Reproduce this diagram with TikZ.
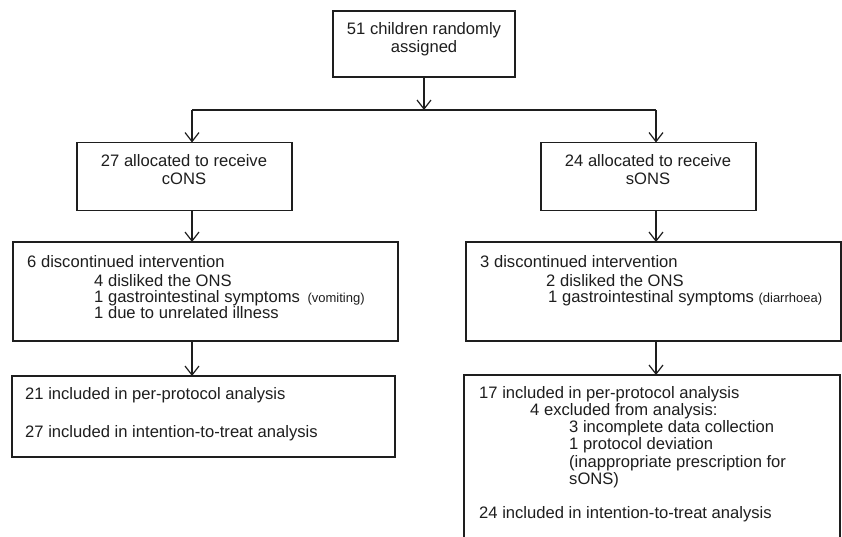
\documentclass[tikz,border=0pt]{standalone}
\usepackage{fontspec}
\setmainfont{Liberation Sans}
\usetikzlibrary{arrows.meta}
\definecolor{ink}{HTML}{1E1E1E}
\newcommand{\sm}[1]{{\fontsize{13}{15}\selectfont #1}}
\begin{document}
\begin{tikzpicture}[x=1pt,y=-1pt,
  box/.style={draw=ink,line width=1.2pt,rectangle,inner sep=0pt,outer sep=0pt},
  txt/.style={inner sep=0pt,anchor=base west,text=ink,font=\fontsize{16.6}{19}\selectfont},
  ctxt/.style={inner sep=0pt,anchor=base,text=ink,font=\fontsize{16.6}{19}\selectfont},
  arr/.style={draw=ink,line width=1.2pt,-{Straight Barb[length=9pt,width=14pt,line width=1.2pt]}},
  link/.style={draw=ink,line width=1.2pt}]
\clip (0,0) rectangle (842,537);
\fill[white] (0,0) rectangle (842,537);
% boxes
\node[box,minimum width=182pt,minimum height=66pt] (top) at (424,44) {};
\node[box,minimum width=215pt,minimum height=68pt] (l2) at (184.5,176.5) {};
\node[box,minimum width=215pt,minimum height=68pt] (r2) at (648.5,176.5) {};
\node[box,minimum width=385pt,minimum height=99pt] (l3) at (205.5,291.5) {};
\node[box,minimum width=375pt,minimum height=99pt] (r3) at (653.5,291.5) {};
\node[box,minimum width=383pt,minimum height=81pt] (l4) at (203.5,416.5) {};
\node[box,minimum width=376pt,minimum height=180pt] (r4) at (652,465) {};
% texts
\node[ctxt] (t1a) at (424,35) {51 children randomly};
\node[ctxt] (t1b) at (424,53) {assigned};
\node[ctxt] (t2a) at (184,167) {27 allocated to receive};
\node[ctxt] (t2b) at (184,185) {cONS};
\node[ctxt] (t3a) at (648,167) {24 allocated to receive};
\node[ctxt] (t3b) at (648,185) {sONS};
\node[txt] (l3a) at (27,267) {6 discontinued intervention};
\node[txt] (l3b) at (94,286) {4 disliked the ONS};
\node[txt] (l3c) at (94,302) {1 gastrointestinal symptoms\hspace{3pt} \sm{(vomiting)}};
\node[txt] (l3d) at (94,318) {1 due to unrelated illness};
\node[txt] (r3a) at (480,267) {3 discontinued intervention};
\node[txt] (r3b) at (546,286) {2 disliked the ONS};
\node[txt] (r3c) at (548,302) {1 gastrointestinal symptoms \sm{(diarrhoea)}};
\node[txt] (l4a) at (25,399) {21 included in per-protocol analysis};
\node[txt] (l4b) at (25,437) {27 included in intention-to-treat analysis};
\node[txt] (r4a) at (479,398) {17 included in per-protocol analysis};
\node[txt] (r4b) at (530,415) {4 excluded from analysis:};
\node[txt] (r4c) at (569,432) {3 incomplete data collection};
\node[txt] (r4d) at (569,449.5) {1 protocol deviation};
\node[txt] (r4e) at (569,467) {(inappropriate prescription for};
\node[txt] (r4f) at (569,484.5) {sONS)};
\node[txt] (r4g) at (479,518) {24 included in intention-to-treat analysis};
% connectors
\coordinate (split) at (424,110);
\coordinate (lcol) at (192,0);
\coordinate (rcol) at (656,0);
\draw[arr] (top.south) -- (split);
\draw[link] (lcol |- split) -- (rcol |- split);
\draw[arr] (lcol |- split) -- (lcol |- l2.north);
\draw[arr] (rcol |- split) -- (rcol |- r2.north);
\draw[arr] (lcol |- l2.south) -- (lcol |- l3.north);
\draw[arr] (rcol |- r2.south) -- (rcol |- r3.north);
\draw[arr] (lcol |- l3.south) -- (lcol |- l4.north);
\draw[arr] (rcol |- r3.south) -- (rcol |- r4.north);
\end{tikzpicture}
\end{document}
